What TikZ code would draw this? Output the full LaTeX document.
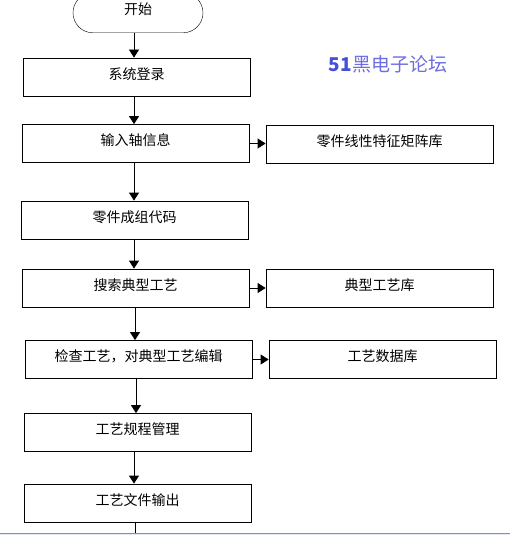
\documentclass[tikz,border=0pt]{standalone}
\usepackage{fontspec}
\setmainfont{Liberation Sans}
\newfontfamily\cjk{Noto Sans CJK SC}
\usetikzlibrary{positioning,arrows.meta}

\definecolor{wmblue}{RGB}{70,80,215}
\definecolor{wmlight}{RGB}{110,110,225}
\definecolor{barline}{RGB}{120,150,190}
\definecolor{barfill}{RGB}{225,232,242}

\tikzset{
  stepbox/.style={draw,thick,minimum width=227pt,minimum height=38pt,inner sep=0pt,
    text height=10pt,text depth=6pt,font=\cjk\fontsize{14}{16}\selectfont},
  terminal/.style={draw,minimum width=130pt,minimum height=40pt,rounded corners=20pt,
    inner sep=0pt,text height=10pt,text depth=6pt,font=\cjk\fontsize{14}{16}\selectfont},
  flow/.style={-{Triangle[width=10pt,length=8pt]},thick}
}

\begin{document}
\begin{tikzpicture}[x=1pt,y=-1pt]
        \clip (0,0) rectangle (510,535);
        \fill[white] (0,0) rectangle (510,535);
        % main column
        \node[terminal,anchor=south] (start) at (138,33) {开始};
        \node[stepbox] (login)  at (136.5,77)  {系统登录};
        \node[stepbox] (input)  at (135.5,143.5) {输入轴信息};
        \node[stepbox] (code)   at (134.5,220) {零件成组代码};
        \node[stepbox] (search) at (135.5,288) {搜索典型工艺};
        \node[stepbox] (edit)   at (138.5,359.5) {检查工艺，对典型工艺编辑};
        \node[stepbox] (manage) at (137.5,432.5) {工艺规程管理};
        \node[stepbox] (output) at (137.5,503) {工艺文件输出};
        % side column
        \node[stepbox] (matrix) at (379.5,144) {零件线性特征矩阵库};
        \node[stepbox] (typlib) at (379.5,288) {典型工艺库};
        \node[stepbox] (datalib) at (382.5,359.5) {工艺数据库};
        \coordinate (tail) at (135,535);
        % watermark
        \node[font=\cjk\fontsize{19}{21}\selectfont] (mark) at (388,64)
            {\textcolor{wmblue}{\bfseries 51}\textcolor{wmlight}{黑电子论坛}};
        % connectors
        \draw[flow] (start.south -| 134,0) -- (login.north -| 134,0);
        \draw[flow] (login.south -| 134,0) -- (input.north -| 134,0);
        \draw[flow] (input.south -| 134,0) -- (code.north -| 134,0);
        \draw[flow] (code.south -| 134,0) -- (search.north -| 134,0);
        \draw[flow] (search.south -| 135,0) -- (edit.north -| 135,0);
        \draw[flow] (edit.south -| 136,0) -- (manage.north -| 136,0);
        \draw[flow] (manage.south -| 134,0) -- (output.north -| 134,0);
        \draw[thick] (output.south -| 135,0) -- (tail);
        \draw[flow] (input.east) -- (matrix.west |- input.east);
        \draw[flow] (search.east) -- (typlib.west |- search.east);
        \draw[flow] (edit.east) -- (datalib.west |- edit.east);
        % window edge
        \fill[barfill] (0,533.5) rectangle (510,535);
        \draw[barline,thick] (0,533.3) -- (510,533.3);
\end{tikzpicture}
\end{document}
